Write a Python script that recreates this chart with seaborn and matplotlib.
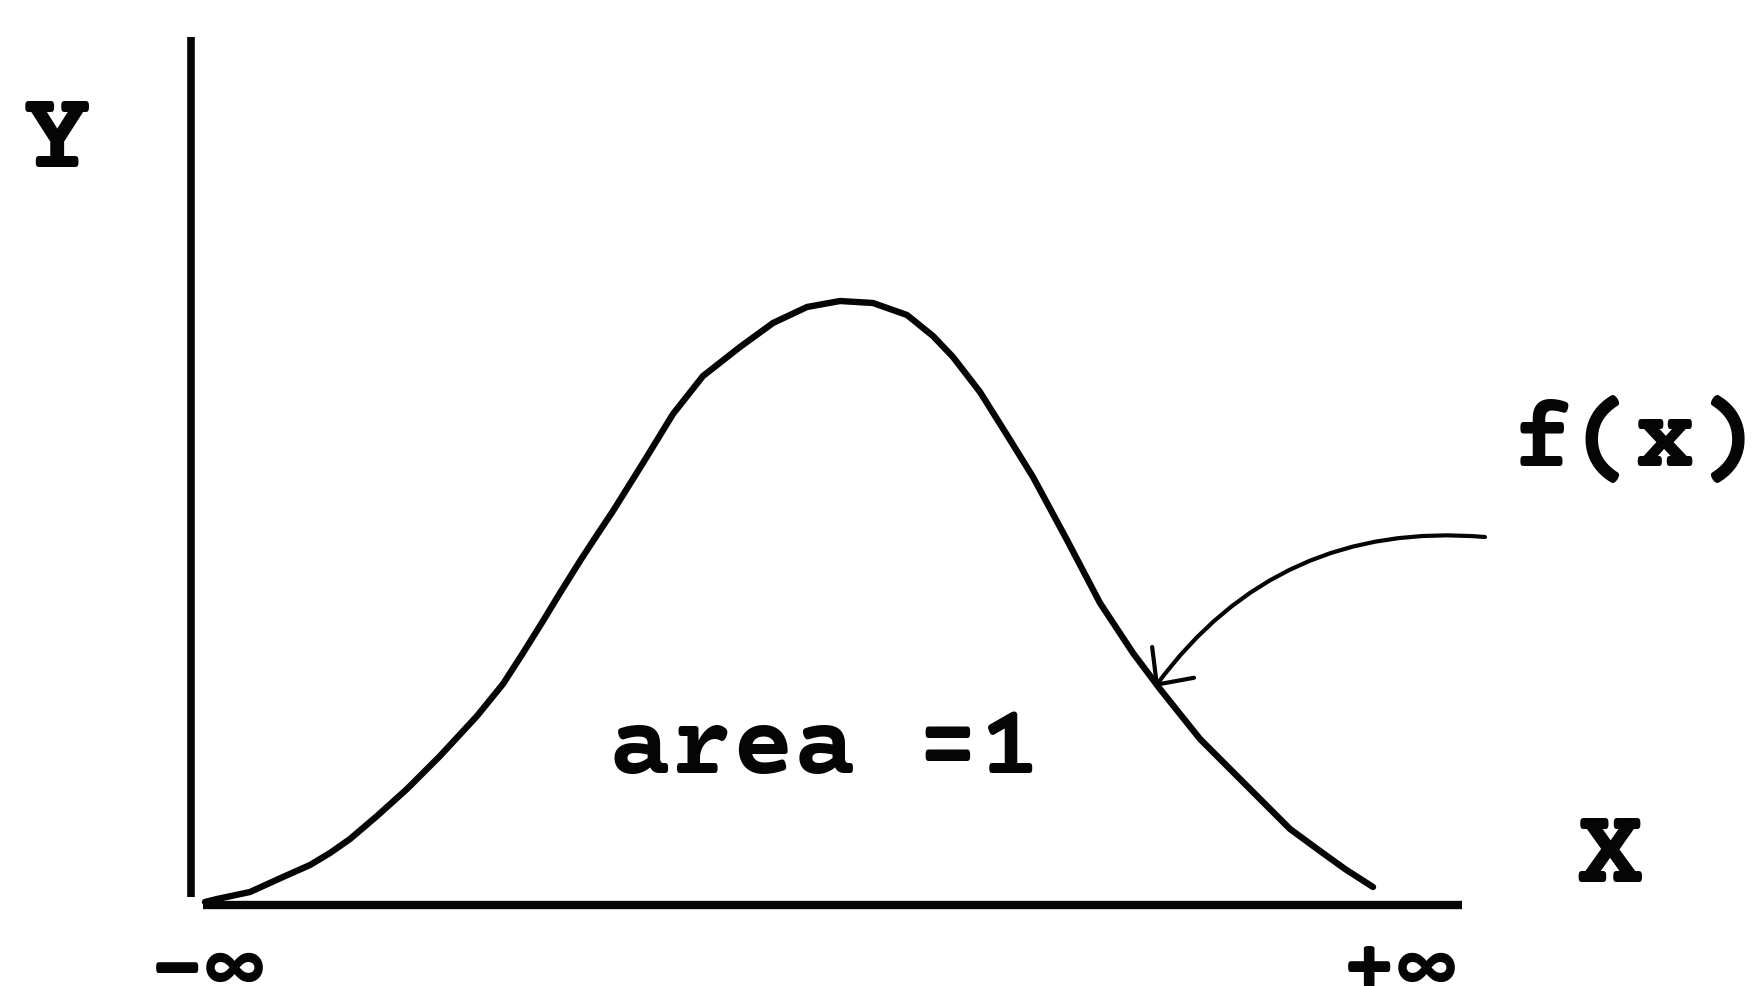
import matplotlib
matplotlib.use("Agg")
import matplotlib.pyplot as plt
import seaborn as sns
import pandas as pd

# Density curve f(x): horizontal position and height above the x axis
curve_x = [14, 26, 59, 92, 119, 139, 159, 186, 216, 249, 286, 312, 332, 352,
           369, 389, 406, 422, 452, 482, 512, 549, 582, 616, 649, 682, 716,
           742, 762, 789, 816, 842, 876, 909, 942, 969, 1009, 1059, 1099,
           1129, 1154, 1182]
curve_y = [1, 4, 11, 26, 38, 50, 64, 87, 114, 147, 187, 219, 250, 282,
           310, 342, 368, 392, 440, 489, 527, 556, 580, 596, 602, 600, 588,
           567, 546, 511, 468, 426, 363, 300, 250, 214, 164, 114, 74, 52,
           34, 16]

# Text labels of the sketch
y_label = "Y"
x_label = "X"
func_label = "f(x)"
area_label = "area =1"
left_label = "-∞"
right_label = "+∞"

curve = pd.DataFrame({"x": curve_x, "density": curve_y})

sns.set_theme(style="white")
families = ["Courier Prime", "FreeMono", "DejaVu Sans Mono"]
plt.rcParams["font.family"] = families
plt.rcParams["font.weight"] = "bold"

fig = plt.figure(figsize=(17.55, 9.87), dpi=100)
fig.patch.set_facecolor("white")
ax = fig.add_axes([0, 0, 1, 1])
ax.set_xlim(-191, 1564)
ax.set_ylim(-83, 904)
ax.axis("off")

ink = "#050505"

# Coordinate axes
ax.plot([0, 0], [6, 866], color=ink, lw=5.5, solid_capstyle="butt")
ax.plot([12, 1271], [-2, -2], color=ink, lw=6.0, solid_capstyle="butt")

# The density curve
sns.lineplot(data=curve, x="x", y="density", color=ink, lw=4.6, ax=ax,
             legend=False)

# Curved pointer from the f(x) label to the curve
ax.annotate("", xy=(964, 216), xytext=(1294, 366),
            arrowprops=dict(arrowstyle="->,head_length=0.9,head_width=0.85",
                            connectionstyle="arc3,rad=0.28",
                            color=ink, lw=3.0, mutation_scale=22,
                            shrinkA=0, shrinkB=0))

font = dict(family=families, fontweight="bold", color=ink)

ax.text(-134, 763, y_label, fontsize=82, ha="center", va="center", **font)
ax.text(1419, 47, x_label, fontsize=80, ha="center", va="center", **font)
ax.text(1444, 462, func_label, fontsize=74, ha="center", va="center", **font)
ax.text(634, 154, area_label, fontsize=74, ha="center", va="center", **font)
ax.text(15, -91, left_label, fontsize=70, ha="center", va="baseline", **font)
ax.text(1207, -91, right_label, fontsize=70, ha="center", va="baseline",
        **font)

fig.savefig("out.png", dpi=100, facecolor="white")
